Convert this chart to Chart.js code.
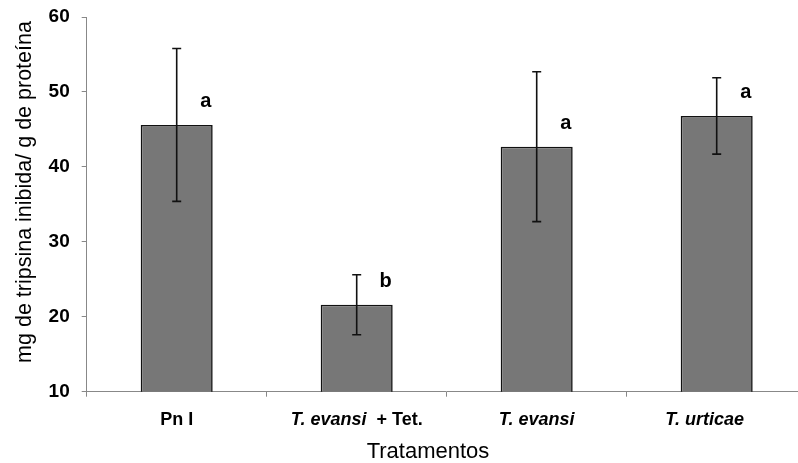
<!DOCTYPE html>
<html><head><meta charset="utf-8">
<script src="https://cdn.jsdelivr.net/npm/chart.js@4/dist/chart.umd.min.js"></script>
<style>
html,body{margin:0;padding:0;background:#fff;overflow:hidden;width:798px;height:463px}
#wrap{position:relative;width:808px;height:463px}
</style>
</head><body><div id="wrap"><canvas id="c" width="808" height="463"></canvas></div>
<script>
const categories = ['Pn I', 'T. evansi + Tet.', 'T. evansi', 'T. urticae'];
const labelParts = [
  [['Pn I', false]],
  [['T. evansi', true], ['  + Tet.', false]],
  [['T. evansi', true]],
  [['T. urticae', true]]
];
const means = [45.6, 21.6, 42.7, 46.8];
const errors = [10.2, 4.0, 10.0, 5.1];
const letters = ['a', 'b', 'a', 'a'];
const yTicks = [10, 20, 30, 40, 50, 60];
const yTitle = 'mg de tripsina inibida/ g de proteína';
const xTitle = 'Tratamentos';

const FONT = '"Liberation Sans", Arial, sans-serif';

const overlay = {
  id: 'overlay',
  afterDatasetsDraw(chart) {
    const ctx = chart.ctx;
    const x = chart.scales.x, y = chart.scales.y;
    ctx.save();
    ctx.strokeStyle = '#111';
    ctx.lineWidth = 1.6;
    means.forEach((m, i) => {
      const cx = x.getPixelForValue(i);
      const yt = y.getPixelForValue(m + errors[i]);
      const yb = y.getPixelForValue(m - errors[i]);
      ctx.beginPath();
      ctx.moveTo(cx, yt); ctx.lineTo(cx, yb);
      ctx.moveTo(cx - 4.5, yt); ctx.lineTo(cx + 4.5, yt);
      ctx.moveTo(cx - 4.5, yb); ctx.lineTo(cx + 4.5, yb);
      ctx.stroke();
      ctx.fillStyle = '#000';
      ctx.font = 'bold 20px ' + FONT;
      ctx.textAlign = 'center';
      ctx.textBaseline = 'middle';
      ctx.fillText(letters[i], cx + 29, y.getPixelForValue(m) - 23);
    });
    ctx.restore();
  },
  afterDraw(chart) {
    const ctx = chart.ctx;
    const x = chart.scales.x;
    ctx.save();
    ctx.fillStyle = '#000';
    ctx.textBaseline = 'alphabetic';
    const dx = [0, 0, 0, -12];
    labelParts.forEach((parts, i) => {
      let total = 0;
      const fonts = parts.map(p => (p[1] ? 'italic bold 18px ' : 'bold 18px ') + FONT);
      parts.forEach((p, j) => { ctx.font = fonts[j]; total += ctx.measureText(p[0]).width; });
      let sx = x.getPixelForValue(i) + dx[i] - total / 2;
      ctx.textAlign = 'left';
      parts.forEach((p, j) => {
        ctx.font = fonts[j];
        ctx.fillText(p[0], sx, 425);
        sx += ctx.measureText(p[0]).width;
      });
    });
    ctx.font = '22px ' + FONT;
    ctx.textAlign = 'center';
    ctx.textBaseline = 'middle';
    ctx.fillText(xTitle, 428, 452);
    ctx.translate(25, 192);
    ctx.rotate(-Math.PI / 2);
    ctx.font = '21.5px ' + FONT;
    ctx.fillText(yTitle, 0, 0);
    ctx.restore();
  }
};

new Chart(document.getElementById('c'), {
  type: 'bar',
  data: {
    labels: categories,
    datasets: [{
      data: means,
      backgroundColor: '#777777',
      borderColor: '#111111',
      borderWidth: 1.6,
      barPercentage: 0.4,
      categoryPercentage: 1.0
    }]
  },
  options: {
    responsive: false,
    animation: false,
    layout: { padding: { top: 17, right: 1.3, left: 0, bottom: 0 } },
    plugins: { legend: { display: false }, tooltip: { enabled: false } },
    scales: {
      x: {
        afterFit: s => { s.height = 71.3; s.paddingLeft = 0; s.paddingRight = 0; },
        ticks: { display: false },
        grid: { display: true, drawOnChartArea: false, drawTicks: true, tickLength: 5, color: '#888', offset: true },
        border: { display: true, color: '#888', width: 1 }
      },
      y: {
        min: 10, max: 60,
        afterFit: s => { s.width = 86.7; s.paddingTop = 0; s.paddingBottom = 0; },
        afterBuildTicks: s => { s.ticks = yTicks.map(v => ({ value: v })); },
        ticks: { color: '#000', font: { family: FONT, size: 19, weight: 'bold' }, padding: 12 },
        grid: { display: true, drawOnChartArea: false, drawTicks: true, tickLength: 5, color: '#888' },
        border: { display: true, color: '#888', width: 1 },
        title: { display: false, text: yTitle }
      }
    }
  },
  plugins: [overlay]
});
</script>
</body></html>
